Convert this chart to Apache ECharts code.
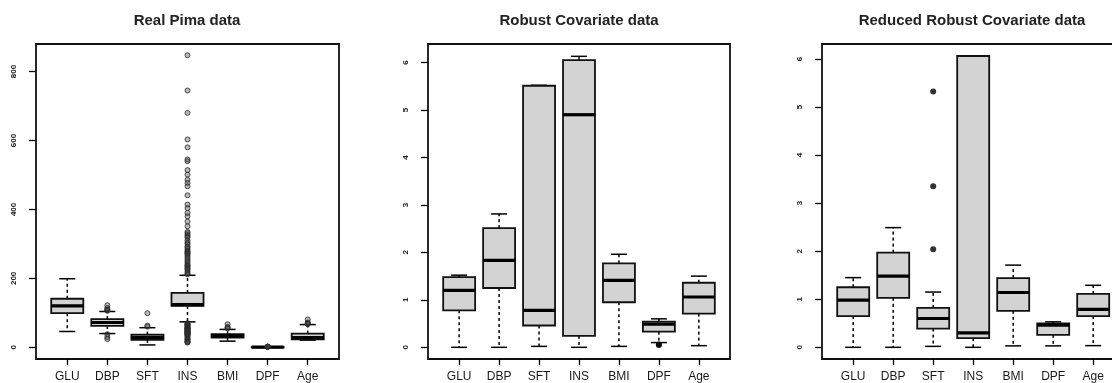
<!DOCTYPE html>
<html>
<head>
<meta charset="utf-8">
<title>Pima boxplots</title>
<script src="https://cdn.jsdelivr.net/npm/echarts@6/dist/echarts.min.js"></script>
<style>
  html, body { margin: 0; padding: 0; background: #fff; }
  #chart { width: 1112px; height: 383px; }
</style>
</head>
<body>
<div id="chart"></div>
<script>
const categories = ['GLU', 'DBP', 'SFT', 'INS', 'BMI', 'DPF', 'Age'];
const catPos = [1, 2, 3, 4, 5, 6, 7];

const titles = ['Real Pima data', 'Robust Covariate data', 'Reduced Robust Covariate data'];

// each row: [lower whisker, Q1, median, Q3, upper whisker]
const realBoxes = [
  [46, 99, 120, 141, 199],
  [40, 62, 72, 82, 104],
  [7, 22, 29, 37, 57],
  [74, 120, 124, 158, 209],
  [18, 28, 33, 38, 52],
  [0.08, 0.24, 0.37, 0.63, 1.19],
  [21, 23, 28, 40, 66]
];
const realOutliers = [
  [],
  [106, 108, 110, 114, 122, 38, 30, 24],
  [60, 63, 99],
  [847, 745, 680, 603, 580, 545, 540, 514, 501, 486, 477, 467, 441, 414, 404, 390, 380, 365, 351,
   335, 331, 326, 322, 318, 310, 304, 300, 293, 290, 285, 280, 277, 275, 272, 270, 265, 260, 255,
   250, 245, 240, 237, 235, 231, 228, 225, 220, 215, 212,
   70, 68, 66, 65, 64, 63, 60, 58, 57, 56, 55, 54, 53, 52, 50, 49, 48, 46, 45, 44, 43, 42,
   41, 40, 38, 37, 36, 35, 32, 29, 25, 23, 22, 18, 16, 15, 14],
  [55, 57, 59, 67],
  [1.25, 1.4, 1.7, 2.1, 2.42],
  [67, 69, 70, 72, 81]
];

const robustBoxes = [
  [0, 0.78, 1.20, 1.48, 1.52],
  [0, 1.25, 1.83, 2.51, 2.81],
  [0.02, 0.46, 0.78, 5.51, 5.52],
  [0, 0.24, 4.90, 6.05, 6.13],
  [0.02, 0.95, 1.41, 1.77, 1.96],
  [0.10, 0.33, 0.49, 0.54, 0.60],
  [0.035, 0.71, 1.06, 1.36, 1.50]
];
const robustOutliers = [[], [], [], [], [], [0.06, 0.05], []];

const reducedBoxes = [
  [0, 0.65, 0.98, 1.25, 1.45],
  [0, 1.03, 1.48, 1.97, 2.49],
  [0.02, 0.39, 0.60, 0.82, 1.15],
  [0, 0.19, 0.30, 6.06, 6.06],
  [0.03, 0.76, 1.14, 1.44, 1.71],
  [0.03, 0.26, 0.46, 0.50, 0.53],
  [0.035, 0.65, 0.79, 1.11, 1.29]
];
const reducedOutliers = [[], [], [5.32, 3.35, 2.04], [], [], [], []];

const yTicksReal = [0, 200, 400, 600, 800];
const yTicksRobust = [0, 1, 2, 3, 4, 5, 6];

// third panel runs off the right edge of the picture, so its x range is cut short
const panels = [
  { boxes: realBoxes, outliers: realOutliers, ticks: yTicksReal, yMin: -33.8, yMax: 879.8,
    left: 36, width: 303, xMax: 7.78, rightEdge: true, titleX: 187, dot: 5, dotBorder: '#2a2a2a' },
  { boxes: robustBoxes, outliers: robustOutliers, ticks: yTicksRobust, yMin: -0.246, yMax: 6.39,
    left: 428, width: 302, xMax: 7.78, rightEdge: true, titleX: 579, dot: 6, dotBorder: '#000' },
  { boxes: reducedBoxes, outliers: reducedOutliers, ticks: yTicksRobust, yMin: -0.243, yMax: 6.31,
    left: 822, width: 290, xMax: 7.47, rightEdge: false, titleX: 972, dot: 6, dotBorder: '#000' }
];

const FONT = '"Liberation Sans", Arial, sans-serif';
const frameLine = { show: true, onZero: false, lineStyle: { color: '#111', width: 1.8 } };

// R-style box: dashed whiskers, staples, grey box, thick median
function renderBox(params, api) {
  const x = api.value(0);
  const lo = api.coord([x, api.value(1)]);
  const q1 = api.coord([x, api.value(2)]);
  const md = api.coord([x, api.value(3)]);
  const q3 = api.coord([x, api.value(4)]);
  const hi = api.coord([x, api.value(5)]);
  const half = api.size([0.8, 0])[0] / 2;
  const cap = half / 2;
  const cx = md[0];
  const dash = { stroke: '#000', lineWidth: 1.5, lineDash: [3, 3] };
  const solid = { stroke: '#000', lineWidth: 1.5 };
  return {
    type: 'group',
    children: [
      { type: 'line', shape: { x1: cx, y1: q3[1], x2: cx, y2: hi[1] }, style: dash },
      { type: 'line', shape: { x1: cx, y1: q1[1], x2: cx, y2: lo[1] }, style: dash },
      { type: 'line', shape: { x1: cx - cap, y1: hi[1], x2: cx + cap, y2: hi[1] }, style: solid },
      { type: 'line', shape: { x1: cx - cap, y1: lo[1], x2: cx + cap, y2: lo[1] }, style: solid },
      { type: 'rect', shape: { x: cx - half, y: q3[1], width: half * 2, height: q1[1] - q3[1] },
        style: { fill: '#d3d3d3', stroke: '#111', lineWidth: 1.8 } },
      { type: 'line', shape: { x1: cx - half, y1: md[1], x2: cx + half, y2: md[1] },
        style: { stroke: '#000', lineWidth: 3.2 } }
    ]
  };
}

const grid = [], xAxis = [], yAxis = [], series = [], graphic = [];

panels.forEach((p, i) => {
  grid.push({ left: p.left, top: 44, width: p.width, height: 315 });

  xAxis.push({
    type: 'value', gridIndex: i, min: 0.22, max: p.xMax, position: 'bottom',
    axisLine: frameLine,
    splitLine: { show: false },
    axisTick: { show: true, length: 6, customValues: catPos, lineStyle: { color: '#000', width: 1.3 } },
    axisLabel: {
      customValues: catPos, margin: 12,
      formatter: v => categories[Math.round(v) - 1],
      fontSize: 12, fontFamily: FONT, color: '#1a1a1a'
    }
  });
  // top edge of the frame
  xAxis.push({
    type: 'value', gridIndex: i, min: 0.22, max: p.xMax, position: 'top',
    axisLine: frameLine, axisTick: { show: false }, axisLabel: { show: false },
    splitLine: { show: false }
  });

  yAxis.push({
    type: 'value', gridIndex: i, min: p.yMin, max: p.yMax, position: 'left',
    axisLine: frameLine,
    splitLine: { show: false },
    axisTick: { show: true, length: 7, customValues: p.ticks, lineStyle: { color: '#000', width: 1.3 } },
    axisLabel: {
      customValues: p.ticks, rotate: 90, margin: 18,
      fontSize: 8, fontWeight: 'bold', fontFamily: FONT, color: '#222'
    }
  });
  // right edge of the frame
  yAxis.push({
    type: 'value', gridIndex: i, min: p.yMin, max: p.yMax, position: 'right',
    axisLine: Object.assign({}, frameLine, { show: p.rightEdge }),
    axisTick: { show: false }, axisLabel: { show: false }, splitLine: { show: false }
  });

  series.push({
    type: 'custom', xAxisIndex: i * 2, yAxisIndex: i * 2,
    renderItem: renderBox,
    encode: { x: 0, y: [1, 2, 3, 4, 5] },
    data: p.boxes.map((b, k) => [catPos[k]].concat(b)),
    silent: true
  });
  series.push({
    type: 'scatter', xAxisIndex: i * 2, yAxisIndex: i * 2,
    symbol: 'circle', symbolSize: p.dot,
    itemStyle: i === 0
      ? { color: 'rgba(60,60,60,0.45)', borderColor: p.dotBorder, borderWidth: 1 }
      : { color: '#000' },
    data: p.outliers.flatMap((vals, k) => vals.map(v => [catPos[k], v])),
    silent: true
  });

  graphic.push({
    type: 'text', x: p.titleX, y: 21,
    style: {
      text: titles[i], textAlign: 'center', textVerticalAlign: 'middle',
      font: 'bold 15px ' + FONT, fill: '#222'
    }
  });
});

const chart = echarts.init(document.getElementById('chart'), null, { renderer: 'canvas' });
chart.setOption({
  animation: false,
  backgroundColor: '#fff',
  grid, xAxis, yAxis, series, graphic
});
</script>
</body>
</html>
